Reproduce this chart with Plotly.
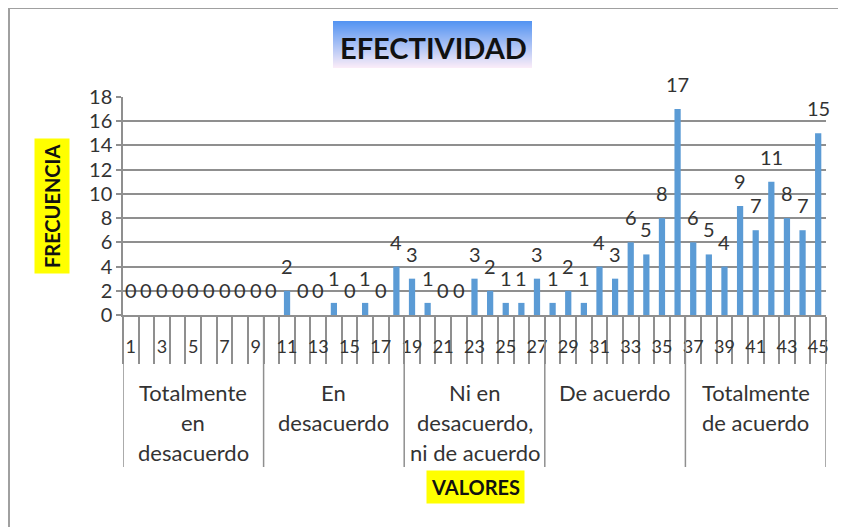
import plotly.graph_objects as go

# ------------------ DATOS ------------------ #
valores = list(range(1, 46))
frecuencia = [0, 0, 0, 0, 0, 0, 0, 0, 0, 0,
              2, 0, 0, 1, 0, 1, 0, 4,
              3, 1, 0, 0, 3, 2, 1, 1, 3,
              1, 2, 1, 4, 3, 6, 5, 8, 17,
              6, 5, 4, 9, 7, 11, 8, 7, 15]
etiquetas_x = list(range(1, 46, 2))
grupos = [
     ["Totalmente", "en", "desacuerdo"],
     ["En", "desacuerdo"],
     ["Ni en", "desacuerdo,", "ni de acuerdo"],
     ["De acuerdo"],
     ["Totalmente", "de acuerdo"],
]
tam_grupo = 9

FUENTE = "Lato"
GRIS = "#8f8f8f"
TEXTO = "#333333"

# La pagina deja 8px de margen: la figura se ajusta a la ventana
W, H = 838, 519
L, R, T, B = 115, 20, 89, 212
PW, PH = W - L - R, H - T - B


# Conversion de pixeles de pantalla a coordenadas "paper"
def px_x(x):
     return (x - 123) / PW


def px_y(y):
     return (315 - y) / PH


fig = go.Figure()
fig.add_trace(go.Bar(
     x=valores,
     y=frecuencia,
     marker=dict(color="#5B9BD5", line=dict(width=0)),
     showlegend=False,
))

shapes = []
annotations = []

# Etiquetas de datos
for v, f in zip(valores, frecuencia):
     annotations.append(dict(
          x=v, y=f, xref="x", yref="y", text=str(f), showarrow=False,
          xanchor="center", yanchor="bottom", yshift=11,
          font=dict(family=FUENTE, size=20, color=TEXTO)))

# Separadores de grupos
for i in range(len(grupos) + 1):
     xs = 0.5 + i * tam_grupo
     shapes.append(dict(type="line", xref="x", yref="paper", x0=xs, x1=xs,
                        y0=0, y1=px_y(467), line=dict(color=GRIS, width=1.5)))

# Etiquetas de grupos
for i, lineas in enumerate(grupos):
     xc = 1 + i * tam_grupo + (tam_grupo - 1) / 2
     for j, linea in enumerate(lineas):
          annotations.append(dict(
               x=xc, y=px_y(392 + 30 * j), xref="x", yref="paper",
               text=linea, showarrow=False, xanchor="center", yanchor="middle",
               font=dict(family=FUENTE, size=22, color=TEXTO)))

# Caja del titulo con degradado
n = 47
y_top, y_bot = 21, 68
c0, c1 = (84, 148, 242), (250, 236, 248)
for k in range(n):
     f = k / (n - 1)
     col = tuple(int(round(c0[m] + (c1[m] - c0[m]) * f)) for m in range(3))
     ya = y_top + (y_bot - y_top) * k / n
     yb = min(y_bot, ya + (y_bot - y_top) / n + 1)
     shapes.append(dict(type="rect", xref="paper", yref="paper",
                        x0=px_x(333), x1=px_x(532), y0=px_y(yb), y1=px_y(ya),
                        fillcolor="rgb(%d,%d,%d)" % col, line=dict(width=0), layer="below"))

annotations.append(dict(
     x=px_x(433.5), y=px_y(47), xref="paper", yref="paper",
     text="<b>EFECTIVIDAD</b>", showarrow=False, xanchor="center", yanchor="middle",
     font=dict(family=FUENTE, size=29, color="#111111")))

annotations.append(dict(
     x=px_x(475), y=px_y(487), xref="paper", yref="paper",
     text="<b>VALORES</b>", showarrow=False, xanchor="center", yanchor="middle",
     bgcolor="#FFFF00", borderpad=4,
     font=dict(family=FUENTE, size=20, color="#111111")))

annotations.append(dict(
     x=px_x(52), y=px_y(206), xref="paper", yref="paper",
     text="<b>FRECUENCIA</b>", showarrow=False, textangle=-90,
     xanchor="center", yanchor="middle", bgcolor="#FFFF00", borderpad=5,
     font=dict(family=FUENTE, size=20, color="#111111")))

# Borde del grafico
shapes.append(dict(type="line", xref="paper", yref="paper",
                   x0=px_x(9), x1=px_x(9), y0=px_y(8), y1=px_y(540),
                   line=dict(color="#a0a0a0", width=2)))
shapes.append(dict(type="line", xref="paper", yref="paper",
                   x0=px_x(9), x1=px_x(860), y0=px_y(8), y1=px_y(8),
                   line=dict(color="#a0a0a0", width=2)))

fig.update_layout(
     width=W, height=H, autosize=False,
     margin=dict(l=L, r=R, t=T, b=B, pad=0),
     plot_bgcolor="white", paper_bgcolor="white",
     bargap=0.6,
     font=dict(family=FUENTE, color=TEXTO),
     xaxis=dict(
          range=[0.5, 45.5],
          tickmode="array", tickvals=etiquetas_x, ticktext=[str(v) for v in etiquetas_x],
          ticks="", ticklabelstandoff=15,
          tickfont=dict(family=FUENTE, size=18, color=TEXTO),
          showgrid=False, zeroline=False,
          showline=True, linecolor=GRIS, linewidth=1.5,
          minor=dict(ticks="outside", tickmode="linear", tick0=0.5, dtick=1,
                     ticklen=47, tickcolor=GRIS, tickwidth=1.5, showgrid=False),
     ),
     yaxis=dict(
          range=[0, 18], dtick=2,
          showgrid=True, gridcolor=GRIS, gridwidth=1.5,
          zeroline=False,
          showline=True, linecolor=GRIS, linewidth=1.5,
          ticks="outside", ticklen=5, tickcolor=GRIS, tickwidth=1.5,
          tickfont=dict(family=FUENTE, size=20, color=TEXTO),
     ),
     shapes=shapes,
     annotations=annotations,
)

fig.write_html("out.html")
